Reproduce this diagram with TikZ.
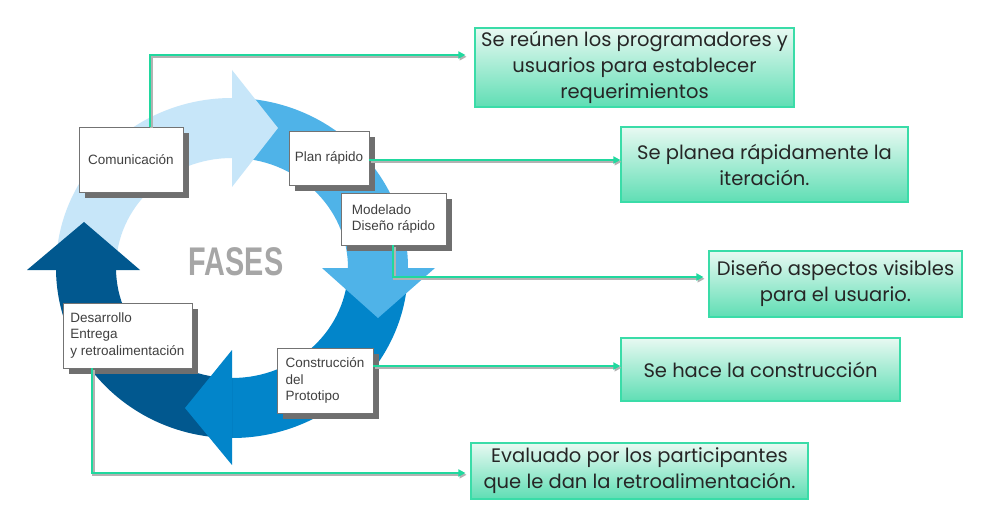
\documentclass[tikz,border=0pt]{standalone}
\usepackage{fontspec}
\setmainfont{Liberation Sans}
\newfontfamily\gothic{Poppins}
\usepackage{graphicx}
\usetikzlibrary{arrows.meta,shadows,calc}
\definecolor{ringA}{HTML}{C7E6F9}
\definecolor{ringB}{HTML}{4FB3E8}
\definecolor{ringC}{HTML}{0285CA}
\definecolor{ringD}{HTML}{01588F}
\definecolor{gline}{HTML}{20D89E}
\definecolor{gbord}{HTML}{3ADCA8}
\definecolor{gtop}{HTML}{E8F9F2}
\definecolor{gbot}{HTML}{5FDEB4}
\definecolor{shadowgray}{HTML}{6F6F6F}
\definecolor{fasesgray}{HTML}{A6A6A6}
\tikzset{
  graybox/.style={draw=black!55, line width=0.6pt, fill=white,
    font=\fontsize{13.5}{16.5}\selectfont, text=black!75, inner xsep=4pt, inner ysep=2pt,
    drop shadow={shadow xshift=6pt, shadow yshift=-6pt, fill=shadowgray, opacity=1}},
  greenbox/.style={draw=gbord, line width=1.2pt, top color=gtop, bottom color=gbot,
    font=\gothic\fontsize{19.5}{26}\selectfont, text=black!85, align=center, inner sep=0pt},
  conn/.style={draw=gline, line width=2.6pt, -{Triangle[length=7pt,width=7pt]}},
  connshadow/.style={draw=black!30, line width=2.6pt, -{Triangle[length=7pt,width=7pt]}},
}
\newcommand\myconnectors[1]{%
  \draw[#1, shorten >=9pt] (G1.north -| c1) -- (c1) -- (c1 -| B1.west);
  \draw[#1] (G2.east |- c2) -- (c2 -| B2.west);
  \draw[#1, shorten >=5pt] (G3.south -| c3) -- (c3) -- (c3 -| B3.west);
  \draw[#1] (G5.east |- c4) -- (c4 -| B4.west);
  \draw[#1, shorten >=5pt] (G4.south -| c5) -- (c5) -- (c5 -| B5.west);
}
\begin{document}
\begin{tikzpicture}[x=1pt,y=-1pt]
\useasboundingbox (0,0) rectangle (995,529);
\fill[white] (0,0) rectangle (995,529);

% ring shafts
\begin{scope}[shift={(232,268)}]
\fill[ringA] (180:176 and 170) arc[start angle=180,end angle=270,x radius=176,y radius=170]
  -- (270:116 and 110) arc[start angle=270,end angle=180,x radius=116,y radius=110] -- cycle;
\fill[ringB] (270:176 and 170) arc[start angle=270,end angle=360,x radius=176,y radius=170]
  -- (360:116 and 110) arc[start angle=360,end angle=270,x radius=116,y radius=110] -- cycle;
\fill[ringC] (0:176 and 170) arc[start angle=0,end angle=90,x radius=176,y radius=170]
  -- (90:116 and 110) arc[start angle=90,end angle=0,x radius=116,y radius=110] -- cycle;
\fill[ringD] (90:176 and 170) arc[start angle=90,end angle=180,x radius=176,y radius=170]
  -- (180:116 and 110) arc[start angle=180,end angle=90,x radius=116,y radius=110] -- cycle;
\end{scope}
% arrow heads
\fill[ringA] (232,70) -- (278,128) -- (232,187) -- cycle;
\fill[ringB] (322,268) -- (435,268) -- (378,318) -- cycle;
\fill[ringC] (232,350) -- (232,465) -- (185,408) -- cycle;
\fill[ringD] (27,270) -- (140,270) -- (84,222) -- cycle;

\node[font=\bfseries\fontsize{40}{40}\selectfont, text=fasesgray] (F) at (236,262) {\scalebox{0.72}[1]{FASES}};

% phase boxes
\node[graybox, minimum width=104pt, minimum height=65pt, align=center] (G1) at (131,159.5) {Comunicación};
\node[graybox, minimum width=80pt, minimum height=54pt, align=center] (G2) at (329,158) {Plan rápido};
\node[graybox, minimum width=105pt, minimum height=52pt, align=left] (G3) at (393.5,219) {Modelado\\Diseño rápido};
\node[graybox, minimum width=129pt, minimum height=65pt, align=left] (G4) at (127.5,335.5) {Desarrollo\\Entrega\\y retroalimentación};
\node[graybox, minimum width=96pt, minimum height=65pt, align=left] (G5) at (325,380.5) {Construcción\\del\\Prototipo};

% description boxes
\node[greenbox, minimum width=319pt, minimum height=79pt] (B1) at (634.5,67.5) {Se reúnen los programadores y\\usuarios para establecer\\requerimientos};
\node[greenbox, minimum width=287pt, minimum height=75pt] (B2) at (764.5,164.5) {Se planea rápidamente la\\iteración.};
\node[greenbox, minimum width=253pt, minimum height=66pt] (B3) at (835.5,284) {Diseño aspectos visibles\\para el usuario.};
\node[greenbox, minimum width=279pt, minimum height=63pt] (B4) at (760.5,369.5) {Se hace la construcción};
\node[greenbox, minimum width=337pt, minimum height=56pt] (B5) at (639.5,471) {Evaluado por los participantes\\que le dan la retroalimentación.};

% connector bends
\coordinate (c1) at (150,55);
\coordinate (c2) at (369,160);
\coordinate (c3) at (393,277);
\coordinate (c4) at (373,366);
\coordinate (c5) at (92,473);

\begin{scope}[transform canvas={xshift=1.2pt,yshift=-1.8pt}]
\myconnectors{connshadow}
\end{scope}
\myconnectors{conn}
\end{tikzpicture}
\end{document}
